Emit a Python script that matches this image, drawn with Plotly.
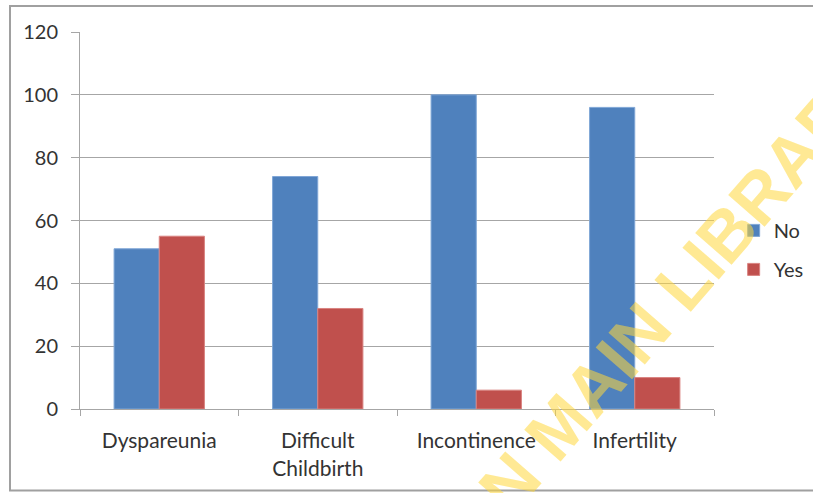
import plotly.graph_objects as go

# Complications by response
categories = ["Dyspareunia", "Difficult<br>Childbirth", "Incontinence", "Infertility"]
no_values = [51, 74, 100, 96]
yes_values = [55, 32, 6, 10]
y_ticks = [0, 20, 40, 60, 80, 100, 120]

BLUE = "#4F81BD"
RED = "#C0504D"
GRID = "#A6A6A6"
TEXT = "#333333"
FONT = "Lato, Carlito, Calibri, sans-serif"

fig = go.Figure()
fig.add_trace(go.Bar(
    name="No", x=categories, y=no_values,
    marker=dict(color=BLUE, line=dict(color="#7FA6D6", width=1)),
    legendgroup="no",
))
fig.add_trace(go.Bar(
    name="Yes", x=categories, y=yes_values,
    marker=dict(color=RED, line=dict(color="#D98380", width=1)),
    legendgroup="yes",
))

# outer chart frame
fig.add_shape(
    type="rect", xref="paper", yref="paper",
    x0=-0.1104, x1=1.17, y0=-0.2165, y1=1.069,
    line=dict(color="#A0A0A0", width=2), fillcolor="rgba(0,0,0,0)",
    layer="below",
)

# library watermark
fig.add_annotation(
    text="<b>N MAIN LIBRARY</b>", xref="paper", yref="paper",
    x=0.951, y=0.332, xanchor="center", yanchor="middle",
    textangle=-49, showarrow=False,
    font=dict(family="Liberation Sans, Arial, sans-serif", size=70,
              color="rgba(255, 215, 60, 0.55)"),
)

fig.update_layout(
    width=813, height=493,
    margin=dict(l=80, r=99, t=32, b=84, pad=0, autoexpand=False),
    paper_bgcolor="white", plot_bgcolor="white",
    barmode="group", bargap=0.43, bargroupgap=0,
    font=dict(family=FONT, size=20, color=TEXT),
    showlegend=True,
    legend=dict(
        x=1.031, y=0.422, xanchor="left", yanchor="middle",
        font=dict(family=FONT, size=20, color=TEXT),
        tracegroupgap=10, traceorder="grouped",
        bgcolor="rgba(0,0,0,0)",
    ),
    xaxis=dict(
        showline=True, linecolor=GRID, linewidth=1,
        ticks="outside", tickson="boundaries", ticklen=6, tickcolor=GRID,
        showgrid=False, ticklabelstandoff=13,
        tickfont=dict(family=FONT, size=21, color=TEXT),
    ),
    yaxis=dict(
        range=[0, 120], tickvals=y_ticks,
        showline=True, linecolor=GRID, linewidth=1,
        ticks="outside", ticklen=8, tickcolor=GRID,
        showgrid=True, gridcolor=GRID, gridwidth=1,
        zeroline=False, ticklabelstandoff=9,
    ),
)

fig.write_html("out.html")
